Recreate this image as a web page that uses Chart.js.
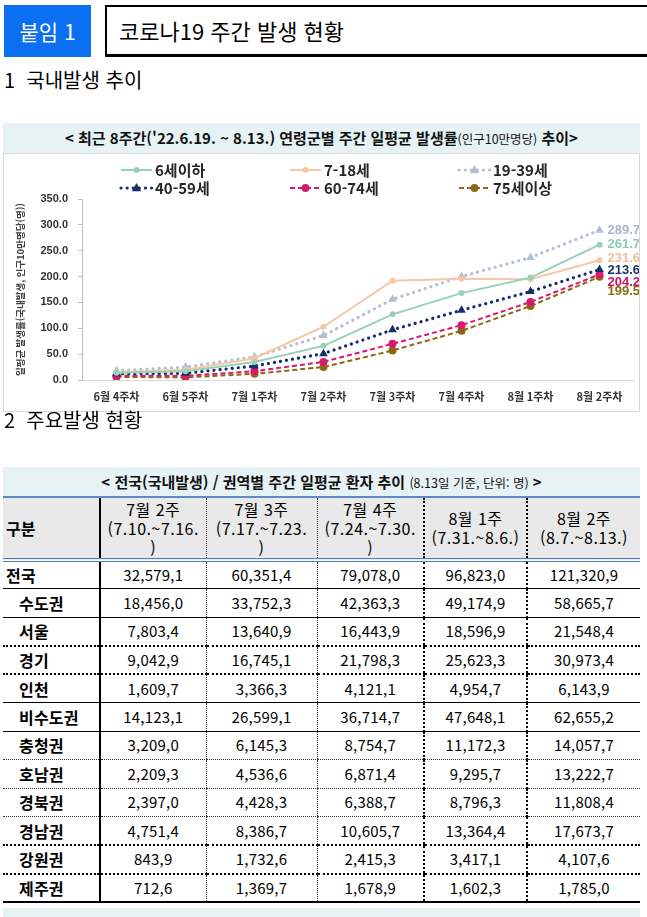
<!DOCTYPE html>
<html lang="ko">
<head>
<meta charset="utf-8">
<title>코로나19 주간 발생 현황</title>
<script src="https://cdn.jsdelivr.net/npm/chart.js@4.4.1/dist/chart.umd.min.js"></script>
<style>
  body { margin: 0; width: 647px; height: 917px; position: relative; overflow: hidden; background: #fff;
         font-family: "Noto Sans CJK KR", sans-serif; color: #000; }
  .tag { position: absolute; left: 4px; top: 5px; width: 87px; height: 52px; background: #0b6ff2;
         color: #fff; font-size: 21px; line-height: 52px; text-align: center; }
  .titlebox { position: absolute; left: 105px; top: 5px; width: 560px; height: 52px; box-sizing: border-box;
              border: 2px solid #000; border-bottom-width: 3px; font-size: 22px; line-height: 46px; padding-left: 12px; }
  .sec { position: absolute; left: 4px; font-size: 20px; line-height: 30px; }
  .band { position: absolute; left: 3px; width: 637px; background: #e7f2f4; text-align: center;
          font-weight: bold; font-size: 15px; color: #111; }
  .band small { font-weight: normal; font-size: 12.5px; }
  #chartBox { position: absolute; left: 3px; top: 153px; width: 637px; height: 259px;
              box-sizing: border-box; border: 1px solid #d9d9d9; }
  table { position: absolute; left: 3px; top: 496px; width: 637px; border-collapse: collapse; table-layout: fixed; }
  th { background: #e9e9e9; font-weight: normal; font-size: 16px; line-height: 19px; height: 60px; padding: 0;
       border-top: 2px solid #5b8cc8; border-bottom: 4px double #4a7fc0; letter-spacing: 0.5px; }
  th.first { text-align: left; padding-left: 3px; font-weight: bold; letter-spacing: 0; }
  tr.row { height: 28.5px; }
  td { padding: 0; text-align: center; font-size: 15px; line-height: 16px; letter-spacing: 0.2px; }
  td.name { text-align: left; font-weight: bold; font-size: 16px; padding-left: 16px; }
  td.name.top { padding-left: 3px; }
  .c1 { border-left: 2px solid #000; }
  .c2, .c3 { border-left: 1px dotted #333; }
  .c4, .c5 { border-left: 2px dotted #000; }
  .bottomBand { position: absolute; left: 3px; top: 908px; width: 637px; height: 9px; background: #e7f2f4; }
</style>
</head>
<body>
<div class="tag">붙임 1</div>
<div class="titlebox">코로나19 주간 발생 현황</div>
<div class="sec" style="top:65px">1&nbsp; 국내발생 추이</div>
<div class="band" style="top:123px;height:30px;line-height:30px">&lt; 최근 8주간('22.6.19. ~ 8.13.) 연령군별 주간 일평균 발생률<small>(인구10만명당)</small> 추이&gt;</div>
<div id="chartBox"><canvas id="ageChart"></canvas></div>
<div class="sec" style="top:405px">2&nbsp; 주요발생 현황</div>
<div class="band" style="top:467px;height:29px;line-height:29px">&lt; 전국(국내발생) / 권역별 주간 일평균 환자 추이 <small>(8.13일 기준, 단위: 명)</small> &gt;</div>
<table id="regionTable"></table>
<div class="bottomBand"></div>

<script>
// chart: weekly average incidence per 100k, by age group
var weekLabels = ["6월 4주차", "6월 5주차", "7월 1주차", "7월 2주차", "7월 3주차", "7월 4주차", "8월 1주차", "8월 2주차"];
var ageGroups = ["6세이하", "7-18세", "19-39세", "40-59세", "60-74세", "75세이상"];
var under6 = [14, 17, 35, 66, 127, 168, 198, 261.7];
var age7to18 = [15, 20, 42, 103, 192, 196, 195, 231.6];
var age19to39 = [18, 25, 45, 86, 156, 200, 237, 289.7];
var age40to59 = [12, 13, 27, 51, 97, 135, 171, 213.6];
var age60to74 = [8, 8, 17, 35, 70, 106, 151, 204.2];
var over75 = [6, 5, 12, 25, 57, 95, 143, 199.5];
var yTicks = [0, 50, 100, 150, 200, 250, 300, 350];

// table: national / regional weekly average cases
var regions = ["전국", "수도권", "서울", "경기", "인천", "비수도권", "충청권", "호남권", "경북권", "경남권", "강원권", "제주권"];
var weekHeads = [
  ["7월 2주", "(7.10.~7.16.", ")"],
  ["7월 3주", "(7.17.~7.23.", ")"],
  ["7월 4주", "(7.24.~7.30.", ")"],
  ["8월 1주", "(7.31.~8.6.)"],
  ["8월 2주", "(8.7.~8.13.)"],
];
var jul2 = [32579.1, 18456.0, 7803.4, 9042.9, 1609.7, 14123.1, 3209.0, 2209.3, 2397.0, 4751.4, 843.9, 712.6];
var jul3 = [60351.4, 33752.3, 13640.9, 16745.1, 3366.3, 26599.1, 6145.3, 4536.6, 4428.3, 8386.7, 1732.6, 1369.7];
var jul4 = [79078.0, 42363.3, 16443.9, 21798.3, 4121.1, 36714.7, 8754.7, 6871.4, 6388.7, 10605.7, 2415.3, 1678.9];
var aug1 = [96823.0, 49174.9, 18596.9, 25623.3, 4954.7, 47648.1, 11172.3, 9295.7, 8796.3, 13364.4, 3417.1, 1602.3];
var aug2 = [121320.9, 58665.7, 21548.4, 30973.4, 6143.9, 62655.2, 14057.7, 13222.7, 11808.4, 17673.7, 4107.6, 1785.0];

// row separators under each region row
var rowLines = ["1px solid #000", "1px solid #000", "2px dotted #000", "2px dotted #000", "1px solid #000", "1px solid #000",
  "1px dotted #333", "1px dotted #333", "1px dotted #333", "2px dotted #000", "2px dotted #000", "2px solid #000"];

function fmt(v) {
  // printed with comma separators in the source document
  return v.toLocaleString("en-US", { minimumFractionDigits: 1, maximumFractionDigits: 1 }).replace(".", ",");
}

// build the table
var table = document.getElementById("regionTable");
var colWidths = [97, 106, 111, 107, 103, 113];
var html = "<colgroup>" + colWidths.map(function (w) { return '<col style="width:' + w + 'px">'; }).join("") + "</colgroup>";
html += '<tr><th class="first">구분</th>';
weekHeads.forEach(function (h, i) {
  html += '<th class="c' + (i + 1) + '">' + h.join("<br>") + "</th>";
});
html += "</tr>";
var weekCols = [jul2, jul3, jul4, aug1, aug2];
regions.forEach(function (r, ri) {
  var b = "border-bottom:" + rowLines[ri];
  html += '<tr class="row"><td class="name' + (ri === 0 ? " top" : "") + '" style="' + b + '">' + r + "</td>";
  weekCols.forEach(function (col, ci) {
    html += '<td class="c' + (ci + 1) + '" style="' + b + '">' + fmt(col[ri]) + "</td>";
  });
  html += "</tr>";
});
table.innerHTML = html;

// legend drawn in the top padding, 3 columns x 2 rows
var legendCols = [117, 286, 455];
var legendRows = [16, 34];

function drawMarker(ctx, style, r, x, y) {
  ctx.beginPath();
  if (style === "triangle") {
    ctx.moveTo(x, y - r);
    ctx.lineTo(x + r * 0.95, y + r * 0.65);
    ctx.lineTo(x - r * 0.95, y + r * 0.65);
    ctx.closePath();
  } else {
    ctx.arc(x, y, r, 0, Math.PI * 2);
  }
  ctx.fill();
}

var gridLegend = {
  id: "gridLegend",
  afterDraw: function (chart) {
    var ctx = chart.ctx;
    chart.data.datasets.forEach(function (ds, i) {
      var x = legendCols[i % 3];
      var y = legendRows[Math.floor(i / 3)];
      ctx.save();
      ctx.strokeStyle = ds.borderColor;
      ctx.lineWidth = ds.borderWidth;
      ctx.lineCap = ds.borderCapStyle || "butt";
      ctx.setLineDash(ds.borderDash || []);
      ctx.beginPath();
      ctx.moveTo(x, y);
      ctx.lineTo(x + 31, y);
      ctx.stroke();
      ctx.setLineDash([]);
      ctx.fillStyle = ds.pointBackgroundColor;
      drawMarker(ctx, ds.pointStyle, ds.pointRadius, x + 15.5, y);
      ctx.fillStyle = "#262626";
      ctx.font = "bold 15px 'Noto Sans CJK KR'";
      ctx.textBaseline = "middle";
      ctx.fillText(ds.label, x + 34, y);
      ctx.restore();
    });
  },
};

// value labels at the last week
var endLabels = {
  id: "endLabels",
  afterDatasetsDraw: function (chart) {
    var ctx = chart.ctx;
    chart.data.datasets.forEach(function (ds, i) {
      var meta = chart.getDatasetMeta(i);
      var last = meta.data.length - 1;
      var pt = meta.data[last];
      ctx.save();
      ctx.fillStyle = ds.valueColor;
      ctx.font = "bold 13px 'Liberation Sans'";
      ctx.textBaseline = "middle";
      ctx.fillText(ds.data[last].toFixed(1), pt.x + 8, pt.y + ds.valueShift);
      ctx.restore();
    });
  },
};

function series(label, data, color, valueColor, dash, width, cap, pointStyle, radius, shift) {
  return {
    label: label,
    data: data,
    borderColor: color,
    backgroundColor: color,
    pointBackgroundColor: color,
    pointBorderColor: color,
    borderWidth: width,
    borderDash: dash,
    borderCapStyle: cap,
    pointStyle: pointStyle,
    pointRadius: radius,
    pointBorderWidth: 0,
    tension: 0,
    valueColor: valueColor,
    valueShift: shift,
  };
}

var ctx = document.getElementById("ageChart").getContext("2d");
var ageChart = new Chart(ctx, {
  type: "line",
  data: {
    labels: weekLabels,
    datasets: [
      series(ageGroups[0], under6, "#96d1b8", "#8ccbb1", [], 2, "butt", "circle", 3, 0),
      series(ageGroups[1], age7to18, "#f7c6a4", "#f4bf98", [], 2, "butt", "circle", 3, -2),
      series(ageGroups[2], age19to39, "#b3bfd3", "#a9b6cc", [0.1, 6], 3.2, "round", "triangle", 5, 0),
      series(ageGroups[3], age40to59, "#142f6a", "#1b3366", [0.1, 6], 3.2, "round", "triangle", 5, 1),
      series(ageGroups[4], age60to74, "#d71a6c", "#cf1261", [5, 3], 2, "butt", "circle", 4, 8),
      series(ageGroups[5], over75, "#8a6912", "#8a6c12", [5, 3], 2, "butt", "circle", 4, 15),
    ],
  },
  options: {
    responsive: true,
    maintainAspectRatio: false,
    animation: false,
    layout: { padding: { top: 45, right: 5, bottom: 0, left: 0 } },
    plugins: {
      legend: { display: false },
      tooltip: { enabled: false },
    },
    scales: {
      x: {
        offset: true,
        grid: { display: false, drawTicks: false },
        border: { color: "#d9d9d9" },
        ticks: {
          font: { family: "Noto Sans CJK KR", weight: "bold", size: 11 },
          color: "#333",
          padding: 10,
          maxRotation: 0,
          autoSkip: false,
        },
        afterFit: function (scale) { scale.height = 31; },
      },
      y: {
        min: 0,
        max: 350,
        afterBuildTicks: function (scale) {
          scale.ticks = yTicks.map(function (v) { return { value: v }; });
        },
        ticks: {
          callback: function (v) { return Number(v).toFixed(1); },
          font: { family: "Liberation Sans", weight: "bold", size: 11 },
          color: "#333",
          padding: 10,
        },
        grid: { drawOnChartArea: false, drawTicks: true, tickLength: 4, color: "#bfbfbf" },
        border: { color: "#bfbfbf" },
        title: {
          display: true,
          text: "일평균 발생률(국내발생, 인구10만명당(명))",
          font: { family: "Noto Sans CJK KR", weight: "bold", size: 9.5 },
          color: "#404040",
          padding: { top: 11, bottom: 0 },
        },
        afterFit: function (scale) { scale.width = 78; },
      },
    },
  },
  plugins: [gridLegend, endLabels],
});
</script>
</body>
</html>
